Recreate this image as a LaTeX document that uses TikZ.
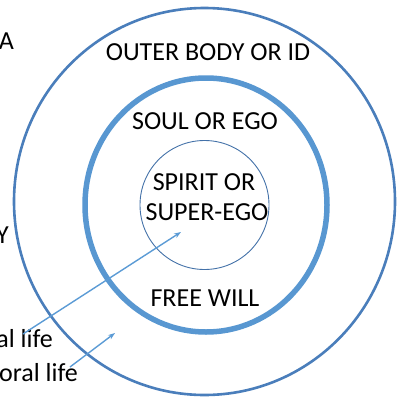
\documentclass[tikz,border=0pt]{standalone}
\usepackage{fontspec}
\setmainfont{Carlito}
\usepackage{tikz}
\usetikzlibrary{
	calc,
	arrows.meta}

\definecolor{ringblue}{HTML}{4A7EBB}
\definecolor{arrowblue}{HTML}{5B9BD5}
\tikzset{
	lbl/.style={inner sep=0pt, font=\fontsize{26}{30}\selectfont},
	pointer/.style={draw=arrowblue, line width=1.4pt, -{Stealth[length=7pt,width=5pt]}}}

\begin{document}
\begin{tikzpicture}[x=1pt,y=-1pt]
      \useasboundingbox (0,0) rectangle (398,399);
      \clip (0,0) rectangle (398,399);

      \draw [ringblue, line width=2.6pt] (204.5,201.5) ellipse [x radius=190.5, y radius=193.5];
      \draw [arrowblue!85!ringblue, line width=5.5pt] (206,205) ellipse [x radius=121, y radius=127];
      \draw [ringblue!90!black, line width=0.9pt] (204.5,205) circle [radius=64.5];

      \node[lbl] (BODY) at (208,52) {OUTER BODY OR ID};
      \node[lbl] (SOUL) at (205,121) {SOUL OR EGO};
      \node[lbl] (SP1) at (204,182) {SPIRIT OR};
      \node[lbl] (SP2) at (207,212) {SUPER-EGO};
      \node[lbl] (WILL) at (205,298) {FREE WILL};

      \node[lbl, anchor=base east] (LA) at (14,49) {A};
      \node[lbl, anchor=base east] (LY) at (9,243) {Y};
      \node[lbl, anchor=base east] (ML) at (53,347) {al life};
      \node[lbl, anchor=base east] (IML) at (78,381) {oral life};

      \coordinate (s1) at (23,334);
      \coordinate (t1) at (181,232);
      \coordinate (s2) at (70,367);
      \coordinate (t2) at (115,333);

      \draw [pointer] (s1) to (t1);
      \draw [pointer] (s2) to (t2);
  \end{tikzpicture}
\end{document}
